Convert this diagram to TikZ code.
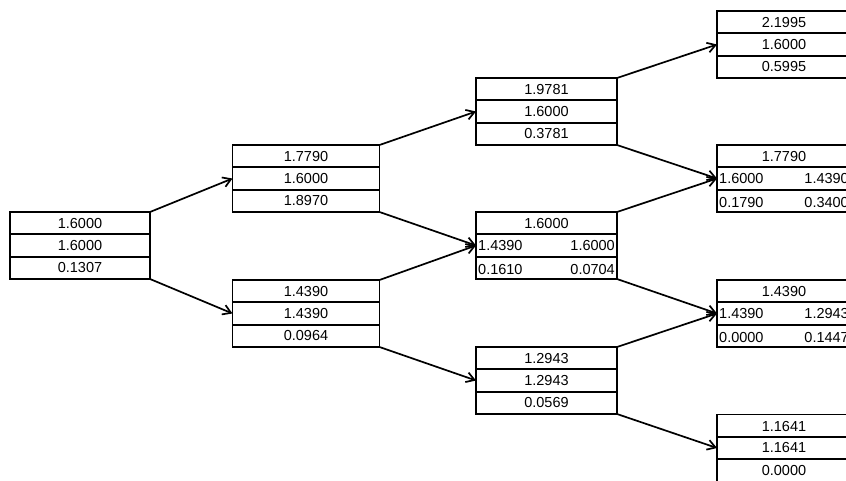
\documentclass[tikz,border=0pt]{standalone}
\usepackage{fontspec}
\setmainfont{Liberation Sans}
\usetikzlibrary{arrows.meta}
\tikzset{
  boxshape/.style={draw, line width=1.7pt, rectangle, minimum height=67pt, inner sep=0pt, outer sep=0pt},
  divider/.style={line width=1.7pt},
  lbl/.style={font=\fontsize{14.5}{16}\selectfont, inner sep=0pt},
  arr/.style={line width=1.7pt, -{Straight Barb[length=8pt,width=10pt,line width=1.7pt]}, shorten >=0pt},
}
% name, cx, cy, width
\newcommand\myFrameBox[4]{%
  \node[boxshape, minimum width=#4pt] (#1) at (#2,#3) {};
  \draw[divider] ([yshift=-22.3pt]#1.north west) -- ([yshift=-22.3pt]#1.north east);
  \draw[divider] ([yshift=22.3pt]#1.south west) -- ([yshift=22.3pt]#1.south east);
}
% name, cx, cy, width, t1, t2, t3
\newcommand\myTriBox[7]{%
  \myFrameBox{#1}{#2}{#3}{#4}
  \node[lbl] (#1-a) at ([yshift=-11.6pt]#1.north) {#5};
  \node[lbl] (#1-b) at (#1.center) {#6};
  \node[lbl] (#1-c) at ([yshift=11.4pt]#1.south) {#7};
}
% name, cx, cy, width, top, midleft, midright, botleft, botright
\newcommand\mySplitBox[9]{%
  \myFrameBox{#1}{#2}{#3}{#4}
  \node[lbl] (#1-a) at ([yshift=-11.6pt]#1.north) {#5};
  \node[lbl, anchor=west] (#1-bl) at ([xshift=2pt]#1.west) {#6};
  \node[lbl, anchor=east] (#1-br) at ([xshift=-2pt]#1.east) {#7};
  \node[lbl, anchor=south west] (#1-cl) at ([xshift=2pt,yshift=4pt]#1.south west) {#8};
  \node[lbl, anchor=south east] (#1-cr) at ([xshift=-2pt,yshift=4pt]#1.south east) {#9};
}
\begin{document}
\begin{tikzpicture}[x=1pt,y=-1pt]
\clip (0,0) rectangle (846,481);
\fill[white] (0,0) rectangle (846,481);

\myTriBox{b0}{80}{245.5}{140}{1.6000}{1.6000}{0.1307}
\myTriBox{b1}{306}{178.5}{147}{1.7790}{1.6000}{1.8970}
\myTriBox{b2}{306}{313.5}{147}{1.4390}{1.4390}{0.0964}
\myTriBox{b3}{546.5}{111.5}{141}{1.9781}{1.6000}{0.3781}
\mySplitBox{b4}{546.5}{245.5}{141}{1.6000}{1.4390}{1.6000}{0.1610}{0.0704}
\myTriBox{b5}{546.5}{380.5}{141}{1.2943}{1.2943}{0.0569}
\myTriBox{b6}{784}{44.5}{134}{2.1995}{1.6000}{0.5995}
\mySplitBox{b7}{784}{178.5}{134}{1.7790}{1.6000}{1.4390}{0.1790}{0.3400}
\mySplitBox{b8}{784}{313.5}{134}{1.4390}{1.4390}{1.2943}{0.0000}{0.1447}
\myTriBox{b9}{784}{448}{134}{1.1641}{1.1641}{0.0000}

\draw[arr] (b0.north east) -- (b1.west);
\draw[arr] (b0.south east) -- (b2.west);
\draw[arr] (b1.north east) -- (b3.west);
\draw[arr] (b1.south east) -- (b4.west);
\draw[arr] (b2.north east) -- (b4.west);
\draw[arr] (b2.south east) -- (b5.west);
\draw[arr] (b3.north east) -- (b6.west);
\draw[arr] (b3.south east) -- (b7.west);
\draw[arr] (b4.north east) -- (b7.west);
\draw[arr] (b4.south east) -- (b8.west);
\draw[arr] (b5.north east) -- (b8.west);
\draw[arr] (b5.south east) -- (b9.west);
\end{tikzpicture}
\end{document}
